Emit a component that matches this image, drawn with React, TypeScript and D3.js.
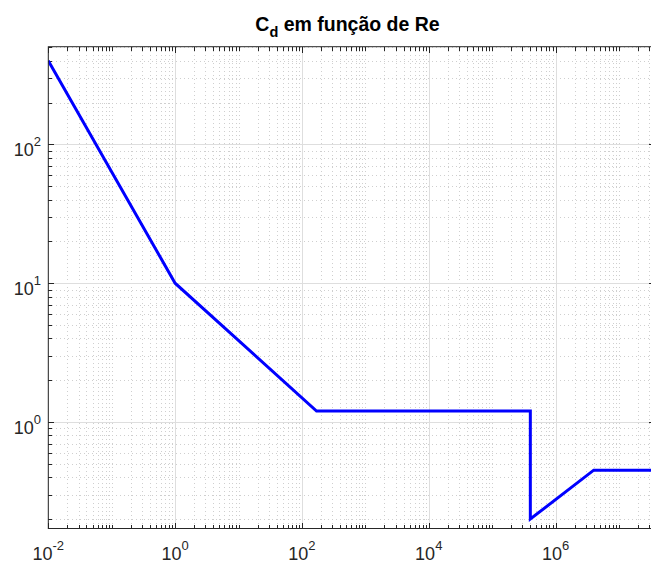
import React from "react";
import * as d3 from "d3";

const reValues = [0.01, 1, 170, 4e5, 4e5, 4e6, 3.7e7];
const cdValues = [400, 10, 1.2, 1.2, 0.2, 0.45, 0.45];
const xMajorExps = [-2, 0, 2, 4, 6];
const yMajorExps = [0, 1, 2];
const titleMain = "C";
const titleSub = "d";
const titleRest = " em função de Re";

const W = 651;
const H = 565;
const L = 48.3;
const R = 655;
const T = 46.7;
const B = 528.5;

export default function App() {
  const x = d3.scaleLog().domain([0.01, 3.7e7]).range([L, R]);
  const y = d3.scaleLog().domain([0.171, 505]).range([B, T]);

  const xAll: number[] = [];
  for (let e = -2; e <= 7; e++) for (let m = 1; m <= 9; m++) {
    const v = m * Math.pow(10, e);
    if (v >= 0.01 && v <= 3.7e7) xAll.push(v);
  }
  const yAll: number[] = [];
  for (let e = -1; e <= 2; e++) for (let m = 1; m <= 9; m++) {
    const v = m * Math.pow(10, e);
    if (v >= 0.171 && v <= 505) yAll.push(v);
  }
  const isXMajor = (v: number) => xMajorExps.some((e) => Math.abs(Math.log10(v) - e) < 1e-9);
  const isYMajor = (v: number) => yMajorExps.some((e) => Math.abs(Math.log10(v) - e) < 1e-9);

  const pts: [number, number][] = reValues.map((r, i) => [r, cdValues[i]]);
  const line = d3.line<[number, number]>().x((d) => x(d[0])).y((d) => y(d[1]));

  const font = "'Liberation Sans', Arial, Helvetica, sans-serif";
  const axisColor = "#262626";

  return (
    <svg width={W} height={H} style={{ position: "absolute", left: 0, top: 0, background: "#fff" }}>
      <defs>
        <clipPath id="plotclip">
          <rect x={L} y={T} width={R - L} height={B - T} />
        </clipPath>
      </defs>
      <rect x={0} y={0} width={W} height={H} fill="#fff" />
      {/* minor grid */}
      <g stroke="#cfcfcf" strokeWidth={1} strokeDasharray="1,3" shapeRendering="crispEdges">
        {xAll.filter((v) => !isXMajor(v)).map((v, i) => (
          <line key={"xg" + i} x1={Math.round(x(v)) + 0.5} x2={Math.round(x(v)) + 0.5} y1={T} y2={B} />
        ))}
        {yAll.filter((v) => !isYMajor(v)).map((v, i) => (
          <line key={"yg" + i} y1={Math.round(y(v)) + 0.5} y2={Math.round(y(v)) + 0.5} x1={L} x2={R} />
        ))}
      </g>
      {/* major grid */}
      <g stroke="#dedede" strokeWidth={1} shapeRendering="crispEdges">
        {xMajorExps.map((e) => (
          <line key={"xM" + e} x1={Math.round(x(Math.pow(10, e))) + 0.5} x2={Math.round(x(Math.pow(10, e))) + 0.5} y1={T} y2={B} />
        ))}
        {yMajorExps.map((e) => (
          <line key={"yM" + e} y1={Math.round(y(Math.pow(10, e))) + 0.5} y2={Math.round(y(Math.pow(10, e))) + 0.5} x1={L} x2={R} />
        ))}
      </g>
      {/* ticks */}
      <g stroke={axisColor} strokeWidth={1} shapeRendering="crispEdges">
        {xAll.map((v, i) => {
          const len = isXMajor(v) ? 6 : 4;
          const px = Math.round(x(v)) + 0.5;
          return (
            <g key={"xt" + i}>
              <line x1={px} x2={px} y1={B} y2={B - len} />
              <line x1={px} x2={px} y1={T} y2={T + len} />
            </g>
          );
        })}
        {yAll.map((v, i) => {
          const len = isYMajor(v) ? 6 : 4;
          const py = Math.round(y(v)) + 0.5;
          return (
            <g key={"yt" + i}>
              <line x1={L} x2={L + len} y1={py} y2={py} />
              <line x1={R} x2={R - len} y1={py} y2={py} />
            </g>
          );
        })}
      </g>
      {/* data line */}
      <path d={line(pts) || ""} fill="none" stroke="#0000ff" strokeWidth={3} strokeLinejoin="miter" clipPath="url(#plotclip)" />
      {/* axes box */}
      <rect x={L} y={T} width={R - L} height={B - T} fill="none" stroke={axisColor} strokeWidth={1} />
      {/* tick labels */}
      <g fontFamily={font} fill={axisColor}>
        {xMajorExps.map((e) => (
          <text key={"xl" + e} x={x(Math.pow(10, e))} y={560} textAnchor="middle" fontSize={18}>
            10<tspan fontSize={13} dy={-10}>{e < 0 ? "-" + Math.abs(e) : String(e)}</tspan>
          </text>
        ))}
        {yMajorExps.map((e) => (
          <text key={"yl" + e} x={41} y={y(Math.pow(10, e)) + 11.5} textAnchor="end" fontSize={18}>
            10<tspan fontSize={13} dy={-10}>{String(e)}</tspan>
          </text>
        ))}
      </g>
      {/* title */}
      <text x={347.5} y={31} textAnchor="middle" fontFamily={font} fontWeight="bold" fontSize={19.5} fill="#000">
        {titleMain}
        <tspan fontSize={14.5} dy={6}>{titleSub}</tspan>
        <tspan dy={-6}>{titleRest}</tspan>
      </text>
    </svg>
  );
}
